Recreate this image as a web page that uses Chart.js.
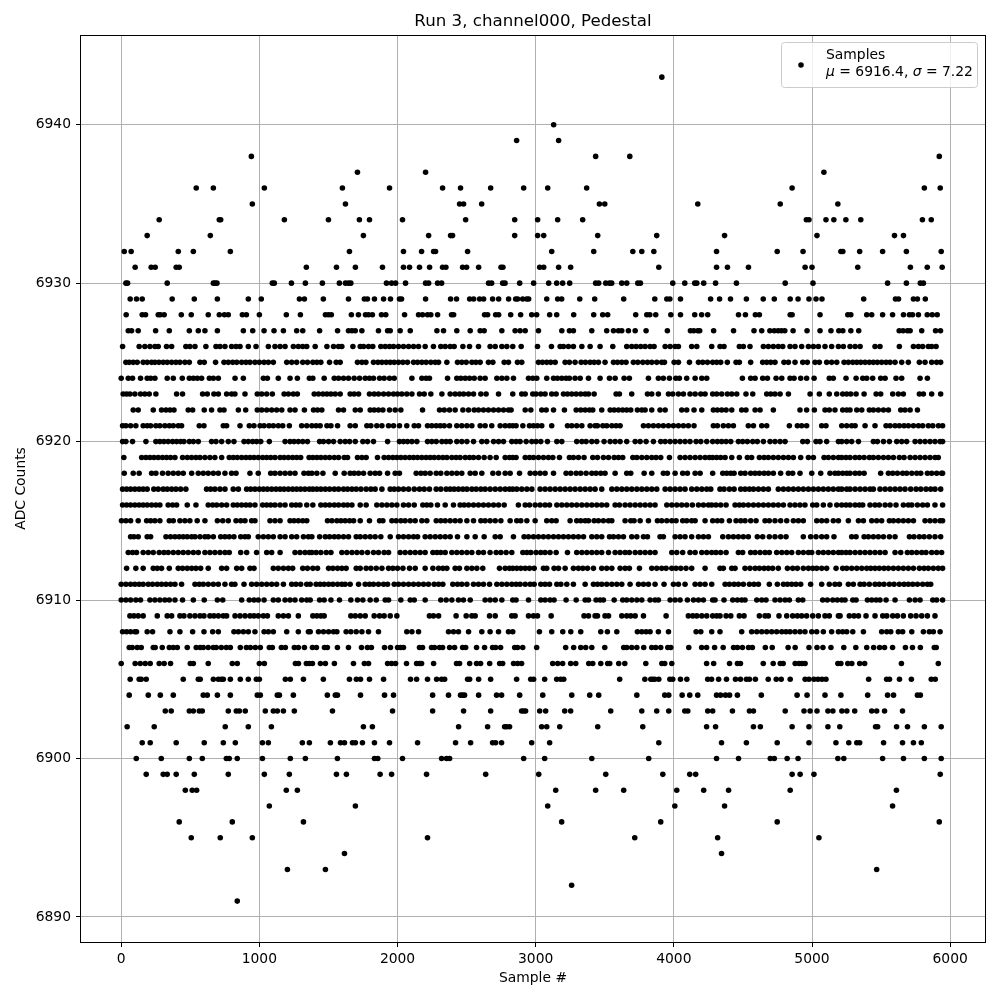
<!DOCTYPE html>
<html>
<head>
<meta charset="utf-8">
<title>Run 3, channel000, Pedestal</title>
<script src="https://cdn.jsdelivr.net/npm/chart.js@4"></script>
<style>
  body { margin: 0; background: #fff; }
  canvas { display: block; }
</style>
</head>
<body>
<canvas id="pedestalChart" width="1000" height="1000"></canvas>
<script>
const chartTitle = "Run 3, channel000, Pedestal";
const xAxisTitle = "Sample #";
const yAxisTitle = "ADC Counts";
const xTicks = [0, 1000, 2000, 3000, 4000, 5000, 6000];
const yTicks = [6890, 6900, 6910, 6920, 6930, 6940];

// sample numbers, one list per ADC level
const adc6943 = [3913];
const adc6940 = [3130];
const adc6939 = [2862, 3166];
const adc6938 = [942, 3434, 3681, 5921];
const adc6937 = [1710, 2203, 5086];
const adc6936 = [543, 667, 1036, 1601, 1942, 2326, 2456, 2674, 2913, 3087, 3369, 4856, 5813, 5928];
const adc6935 = [949, 1623, 2449, 2478, 2609, 3461, 3500, 4173, 4770, 5187];
const adc6934 = [275, 710, 720, 1181, 1500, 1724, 1797, 2036, 2493, 2848, 3014, 3159, 3340, 4959, 4978, 5101, 5158, 5245, 5353, 5799, 5863];
const adc6933 = [188, 645, 1753, 2225, 2384, 2398, 2848, 3014, 3058, 3449, 3876, 4367, 5036, 5597, 5662];
const adc6932 = [22, 72, 413, 522, 790, 1652, 2043, 2174, 2261, 2275, 2507, 3116, 3420, 3703, 3768, 3855, 4309, 4748, 4935, 5209, 5223, 5345, 5511, 5683, 5935];
const adc6931 = [101, 217, 246, 398, 420, 1340, 1558, 1695, 1891, 2043, 2087, 2159, 2232, 2326, 2350, 2471, 2500, 2587, 2749, 2763, 3029, 3058, 3166, 3253, 3891, 4309, 4388, 4540, 4950, 5000, 5331, 5712, 5834, 5942];
const adc6930 = [34, 46, 333, 667, 679, 693, 1094, 1108, 1232, 1333, 1456, 1579, 1623, 1645, 1662, 1920, 1957, 1986, 2058, 2203, 2225, 2290, 2319, 2659, 2681, 2761, 2778, 2884, 2985, 3094, 3152, 3195, 3246, 3434, 3456, 3507, 3534, 3550, 3623, 3659, 3739, 3758, 3992, 4079, 4151, 4166, 4216, 4302, 4453, 4806, 5007, 5547, 5683, 5784, 5806];
const adc6929 = [65, 111, 152, 369, 529, 696, 920, 1014, 1290, 1326, 1463, 1645, 1760, 1782, 1833, 1899, 1949, 2014, 2029, 2203, 2384, 2427, 2522, 2551, 2594, 2623, 2688, 2732, 2804, 2855, 2869, 2906, 2935, 2949, 3080, 3159, 3188, 3319, 3427, 3637, 3862, 3949, 3971, 4048, 4266, 4331, 4410, 4525, 4647, 4727, 4842, 4899, 4978, 5029, 5072, 5374, 5604, 5626, 5734, 5763, 5820];
const adc6928 = [36, 152, 176, 268, 283, 311, 435, 507, 630, 710, 747, 775, 877, 906, 1000, 1195, 1297, 1478, 1500, 1521, 1666, 1717, 1768, 1790, 1818, 1884, 1915, 2051, 2152, 2181, 2217, 2241, 2290, 2391, 2406, 2630, 2652, 2710, 2732, 2819, 2891, 2971, 3007, 3101, 3152, 3275, 3420, 3485, 3521, 3724, 3804, 3826, 3869, 3978, 4048, 4151, 4201, 4245, 4468, 4518, 4590, 4619, 4842, 4856, 5058, 5259, 5281, 5396, 5432, 5511, 5583, 5662, 5705, 5727, 5770, 5834, 5870, 5906];
const adc6927 = [51, 75, 123, 249, 348, 493, 558, 606, 696, 884, 952, 1034, 1106, 1174, 1270, 1314, 1436, 1566, 1645, 1670, 1694, 1742, 1862, 1928, 1947, 2019, 2092, 2285, 2333, 2429, 2526, 2598, 2627, 2755, 2851, 2887, 2924, 3020, 3189, 3244, 3273, 3406, 3514, 3563, 3599, 3623, 3671, 3720, 3799, 3953, 4120, 4144, 4173, 4187, 4288, 4432, 4580, 4636, 4695, 4727, 4755, 4779, 4803, 4863, 4964, 5058, 5137, 5194, 5223, 5281, 5338, 5631, 5659, 5691, 5710, 5794, 5894, 5930];
const adc6926 = [10, 130, 171, 208, 244, 268, 328, 365, 468, 497, 534, 613, 686, 715, 751, 799, 831, 860, 920, 976, 1065, 1113, 1150, 1186, 1246, 1282, 1314, 1343, 1404, 1489, 1537, 1573, 1597, 1677, 1730, 1754, 1790, 1821, 1879, 1911, 1942, 1971, 2007, 2043, 2080, 2116, 2152, 2200, 2260, 2313, 2345, 2381, 2410, 2473, 2521, 2586, 2670, 2707, 2755, 2791, 2834, 2895, 3013, 3114, 3177, 3201, 3237, 3273, 3334, 3394, 3466, 3558, 3659, 3695, 3727, 3760, 3792, 3828, 3857, 3937, 3973, 4009, 4033, 4129, 4166, 4274, 4334, 4363, 4474, 4503, 4551, 4648, 4684, 4720, 4756, 4788, 4841, 4877, 4925, 4974, 5010, 5046, 5094, 5142, 5191, 5227, 5275, 5312, 5348, 5456, 5492, 5632, 5734, 5770, 5801, 5842, 5866, 5898];
const adc6925 = [34, 58, 87, 116, 159, 188, 220, 244, 273, 304, 333, 365, 396, 425, 461, 493, 570, 601, 683, 744, 775, 807, 836, 872, 903, 932, 968, 1000, 1034, 1065, 1101, 1198, 1234, 1270, 1314, 1348, 1387, 1416, 1445, 1508, 1556, 1585, 1710, 1742, 1771, 1826, 1858, 1887, 1918, 1947, 1976, 2007, 2039, 2072, 2116, 2145, 2176, 2207, 2241, 2273, 2297, 2357, 2434, 2465, 2497, 2538, 2567, 2598, 2658, 2690, 2772, 2803, 2868, 2899, 3020, 3049, 3080, 3109, 3141, 3213, 3244, 3285, 3329, 3360, 3394, 3423, 3454, 3502, 3563, 3592, 3623, 3654, 3707, 3739, 3775, 3809, 3840, 3876, 3912, 3932, 4002, 4033, 4113, 4178, 4209, 4243, 4281, 4310, 4339, 4387, 4450, 4474, 4556, 4643, 4672, 4701, 4732, 4797, 4829, 4877, 4933, 4966, 5022, 5053, 5106, 5142, 5179, 5232, 5263, 5295, 5324, 5353, 5384, 5415, 5444, 5473, 5504, 5536, 5565, 5601, 5649, 5697, 5777, 5818, 5866, 5902, 5931];
const adc6924 = [0, 51, 82, 140, 188, 213, 244, 333, 377, 442, 493, 522, 551, 582, 638, 667, 703, 824, 884, 1029, 1058, 1137, 1222, 1275, 1362, 1387, 1469, 1542, 1573, 1609, 1645, 1686, 1725, 1766, 1797, 1826, 1870, 1903, 1942, 1976, 2104, 2176, 2207, 2231, 2362, 2429, 2458, 2490, 2521, 2555, 2598, 2634, 2719, 2755, 2791, 2839, 2948, 2979, 3008, 3080, 3129, 3157, 3189, 3220, 3244, 3285, 3322, 3382, 3466, 3534, 3575, 3640, 3678, 3816, 3888, 3924, 3968, 4014, 4040, 4093, 4154, 4202, 4238, 4496, 4556, 4588, 4643, 4677, 4740, 4781, 4841, 4870, 4918, 4961, 5015, 5125, 5154, 5246, 5319, 5367, 5396, 5439, 5497, 5529, 5608, 5649, 5782, 5835];
const adc6923 = [14, 39, 63, 99, 140, 171, 203, 251, 401, 444, 589, 623, 671, 703, 763, 799, 823, 896, 985, 1017, 1053, 1094, 1179, 1210, 1246, 1275, 1397, 1428, 1460, 1489, 1518, 1549, 1585, 1657, 1686, 1718, 1797, 1831, 1862, 1899, 1935, 1971, 2000, 2031, 2067, 2104, 2159, 2193, 2241, 2321, 2381, 2417, 2449, 2478, 2514, 2550, 2603, 2641, 2731, 2834, 2899, 2924, 2979, 3003, 3037, 3068, 3116, 3148, 3201, 3230, 3261, 3293, 3326, 3358, 3382, 3423, 3582, 3606, 3695, 3809, 3840, 3888, 3961, 3992, 4033, 4069, 4117, 4154, 4195, 4226, 4281, 4310, 4346, 4387, 4419, 4455, 4522, 4571, 4672, 4701, 4732, 4769, 4829, 4986, 5053, 5125, 5179, 5222, 5251, 5280, 5319, 5377, 5464, 5497, 5584, 5625, 5661, 5777, 5806, 5866, 5931];
const adc6922 = [87, 123, 232, 292, 324, 353, 382, 485, 517, 601, 654, 715, 744, 848, 901, 985, 1017, 1053, 1089, 1125, 1162, 1222, 1258, 1326, 1392, 1421, 1452, 1573, 1609, 1694, 1730, 1802, 1831, 1862, 1894, 1942, 1983, 2024, 2181, 2304, 2338, 2376, 2417, 2473, 2514, 2555, 2586, 2622, 2658, 2695, 2731, 2767, 2803, 2822, 2924, 2965, 3044, 3076, 3129, 3208, 3293, 3326, 3358, 3389, 3413, 3478, 3539, 3568, 3599, 3630, 3659, 3688, 3736, 3768, 3792, 3840, 3900, 3937, 4057, 4093, 4146, 4202, 4286, 4315, 4346, 4378, 4419, 4491, 4522, 4588, 4624, 4720, 4913, 4961, 5017, 5094, 5125, 5166, 5222, 5251, 5275, 5324, 5360, 5415, 5444, 5480, 5517, 5553, 5642, 5673, 5710, 5763];
const adc6921 = [10, 34, 68, 106, 159, 188, 213, 251, 280, 316, 348, 377, 413, 437, 565, 599, 739, 763, 860, 927, 961, 1005, 1034, 1070, 1101, 1137, 1169, 1217, 1306, 1343, 1380, 1411, 1440, 1489, 1518, 1566, 1657, 1694, 1778, 1807, 1850, 1887, 1935, 1971, 2014, 2067, 2121, 2152, 2217, 2248, 2280, 2309, 2338, 2376, 2429, 2465, 2502, 2538, 2598, 2634, 2682, 2743, 2779, 2810, 2834, 2858, 2907, 2955, 2984, 3013, 3044, 3116, 3230, 3261, 3297, 3334, 3394, 3430, 3447, 3486, 3514, 3551, 3582, 3611, 3780, 3816, 3852, 3888, 3924, 3961, 3997, 4033, 4069, 4105, 4146, 4286, 4315, 4358, 4395, 4431, 4539, 4576, 4636, 4672, 4836, 4894, 4925, 4961, 5070, 5101, 5215, 5251, 5287, 5312, 5384, 5456, 5536, 5565, 5601, 5632, 5666, 5697, 5734, 5770, 5801, 5842, 5874, 5915, 5945];
const adc6920 = [10, 34, 82, 179, 251, 280, 309, 340, 372, 401, 430, 454, 493, 522, 558, 654, 686, 727, 775, 816, 889, 920, 952, 980, 1010, 1072, 1186, 1222, 1251, 1282, 1314, 1348, 1436, 1464, 1501, 1537, 1585, 1621, 1653, 1694, 1749, 1783, 1826, 1928, 2014, 2043, 2072, 2104, 2140, 2217, 2248, 2280, 2321, 2352, 2381, 2429, 2465, 2502, 2550, 2610, 2646, 2695, 2731, 2767, 2827, 2858, 2887, 2931, 2972, 3003, 3037, 3085, 3153, 3189, 3297, 3334, 3365, 3406, 3442, 3495, 3539, 3575, 3611, 3659, 3720, 3756, 3799, 3852, 3905, 3937, 3973, 4009, 4045, 4081, 4117, 4161, 4195, 4238, 4281, 4315, 4346, 4378, 4412, 4467, 4498, 4532, 4571, 4604, 4648, 4696, 4732, 4769, 4805, 4933, 4966, 5029, 5058, 5106, 5191, 5215, 5251, 5287, 5336, 5444, 5473, 5517, 5560, 5613, 5649, 5685, 5746, 5782, 5818, 5854, 5890, 5927, 5945];
const adc6919 = [19, 148, 179, 208, 237, 268, 299, 328, 357, 389, 444, 478, 509, 541, 570, 606, 642, 678, 727, 782, 811, 840, 872, 903, 932, 961, 992, 1024, 1053, 1082, 1113, 1150, 1179, 1210, 1241, 1270, 1299, 1360, 1387, 1416, 1445, 1477, 1508, 1542, 1573, 1614, 1638, 1710, 1742, 1773, 1855, 1903, 1935, 1966, 1995, 2024, 2055, 2087, 2116, 2145, 2176, 2207, 2236, 2265, 2297, 2328, 2357, 2393, 2424, 2453, 2490, 2521, 2550, 2586, 2627, 2670, 2714, 2779, 2810, 2834, 2858, 2924, 2955, 2984, 3020, 3056, 3092, 3124, 3172, 3244, 3273, 3309, 3350, 3413, 3447, 3490, 3527, 3568, 3599, 3630, 3703, 3732, 3768, 3804, 3840, 3871, 3905, 3968, 4045, 4081, 4117, 4154, 4190, 4226, 4257, 4281, 4310, 4339, 4371, 4419, 4474, 4532, 4563, 4619, 4653, 4684, 4720, 4756, 4793, 4829, 4865, 4918, 4974, 5010, 5087, 5118, 5154, 5191, 5215, 5246, 5275, 5312, 5343, 5377, 5415, 5444, 5480, 5517, 5553, 5589, 5632, 5666, 5710, 5746, 5782, 5818, 5854, 5890, 5914];
const adc6918 = [22, 87, 130, 220, 251, 299, 340, 377, 413, 449, 510, 558, 594, 630, 667, 703, 751, 799, 831, 932, 992, 1082, 1113, 1150, 1186, 1222, 1258, 1323, 1355, 1380, 1416, 1460, 1549, 1614, 1657, 1686, 1718, 1754, 1802, 1838, 1870, 1928, 1983, 2014, 2135, 2169, 2200, 2236, 2280, 2313, 2357, 2393, 2429, 2465, 2526, 2562, 2610, 2690, 2731, 2779, 2815, 2883, 2960, 2996, 3032, 3068, 3129, 3220, 3254, 3293, 3326, 3365, 3406, 3437, 3471, 3502, 3575, 3659, 3688, 3785, 3840, 3924, 3953, 4009, 4064, 4098, 4154, 4190, 4281, 4354, 4383, 4412, 4436, 4484, 4515, 4556, 4588, 4619, 4653, 4684, 4720, 4773, 4829, 4860, 4913, 4998, 5063, 5130, 5166, 5191, 5222, 5251, 5275, 5312, 5343, 5377, 5497, 5553, 5584, 5618, 5656, 5685, 5722, 5758, 5787, 5835, 5866, 5902, 5938, 5945];
const adc6917 = [10, 39, 68, 99, 130, 159, 188, 236, 268, 304, 333, 365, 396, 430, 468, 618, 647, 678, 715, 751, 811, 848, 908, 937, 968, 1000, 1029, 1058, 1089, 1120, 1150, 1179, 1210, 1241, 1270, 1299, 1330, 1362, 1387, 1416, 1445, 1477, 1508, 1542, 1573, 1609, 1638, 1670, 1701, 1735, 1773, 1807, 1838, 1887, 1947, 1976, 2007, 2043, 2080, 2121, 2159, 2193, 2231, 2280, 2313, 2352, 2381, 2410, 2441, 2473, 2502, 2538, 2569, 2603, 2634, 2670, 2707, 2743, 2779, 2810, 2834, 2863, 2899, 2936, 2972, 3032, 3068, 3104, 3141, 3177, 3213, 3249, 3285, 3322, 3358, 3394, 3430, 3478, 3551, 3587, 3623, 3659, 3695, 3732, 3768, 3804, 3840, 3876, 3937, 3973, 4009, 4045, 4081, 4129, 4166, 4202, 4238, 4267, 4334, 4363, 4402, 4436, 4484, 4515, 4547, 4576, 4612, 4648, 4684, 4756, 4793, 4829, 4865, 4901, 4937, 4974, 5010, 5046, 5082, 5118, 5154, 5191, 5215, 5251, 5275, 5312, 5348, 5384, 5420, 5444, 5492, 5529, 5565, 5601, 5637, 5673, 5714, 5753, 5787, 5825, 5859, 5890, 5931];
const adc6916 = [10, 39, 68, 99, 130, 159, 188, 220, 251, 280, 340, 372, 401, 478, 541, 630, 662, 691, 727, 763, 811, 840, 872, 903, 932, 968, 1024, 1053, 1082, 1113, 1150, 1186, 1234, 1265, 1294, 1343, 1387, 1445, 1477, 1508, 1542, 1573, 1609, 1638, 1670, 1730, 1773, 1850, 1887, 1923, 1959, 1995, 2043, 2080, 2121, 2183, 2212, 2241, 2289, 2345, 2405, 2453, 2482, 2514, 2550, 2586, 2622, 2658, 2695, 2731, 2772, 2875, 2924, 2955, 2996, 3032, 3068, 3100, 3153, 3189, 3225, 3261, 3297, 3334, 3370, 3406, 3442, 3478, 3514, 3575, 3606, 3647, 3683, 3720, 3756, 3792, 3828, 3864, 3949, 3985, 4021, 4057, 4093, 4134, 4178, 4214, 4250, 4274, 4305, 4339, 4378, 4443, 4474, 4503, 4539, 4576, 4612, 4648, 4684, 4720, 4756, 4793, 4841, 4877, 4913, 4949, 5005, 5034, 5082, 5130, 5179, 5215, 5246, 5275, 5312, 5343, 5367, 5420, 5456, 5487, 5529, 5565, 5608, 5661, 5697, 5722, 5763, 5801, 5835, 5890, 5945];
const adc6915 = [2, 34, 68, 123, 184, 213, 244, 280, 348, 377, 425, 461, 497, 550, 606, 696, 735, 775, 831, 865, 896, 944, 968, 1077, 1113, 1150, 1222, 1251, 1282, 1314, 1343, 1493, 1525, 1561, 1590, 1621, 1653, 1682, 1730, 1797, 1870, 1894, 1959, 1990, 2024, 2055, 2092, 2128, 2176, 2212, 2280, 2313, 2345, 2381, 2417, 2453, 2502, 2550, 2603, 2634, 2670, 2707, 2748, 2815, 2863, 2892, 2936, 2996, 3080, 3116, 3148, 3249, 3297, 3326, 3358, 3382, 3423, 3454, 3490, 3527, 3551, 3647, 3688, 3712, 3756, 3816, 3881, 3912, 3949, 3985, 4016, 4064, 4093, 4129, 4154, 4226, 4281, 4315, 4346, 4402, 4450, 4484, 4515, 4556, 4595, 4660, 4691, 4732, 4773, 4817, 4865, 4901, 4937, 5034, 5070, 5106, 5154, 5191, 5263, 5336, 5372, 5432, 5468, 5504, 5560, 5589, 5625, 5661, 5697, 5734, 5818, 5854, 5890, 5927, 5945];
const adc6914 = [68, 92, 123, 188, 213, 324, 357, 389, 420, 449, 478, 510, 534, 570, 606, 630, 667, 720, 751, 782, 816, 865, 896, 920, 992, 1029, 1065, 1101, 1150, 1186, 1234, 1270, 1319, 1355, 1380, 1436, 1477, 1508, 1542, 1573, 1609, 1645, 1701, 1730, 1766, 1802, 1838, 1879, 1947, 2007, 2043, 2080, 2116, 2145, 2200, 2236, 2273, 2309, 2345, 2381, 2434, 2502, 2562, 2627, 2707, 2743, 2839, 2916, 2948, 2984, 3020, 3056, 3092, 3129, 3165, 3201, 3237, 3273, 3309, 3346, 3406, 3442, 3478, 3534, 3563, 3599, 3635, 3695, 3732, 3780, 3809, 3900, 3924, 4009, 4045, 4081, 4129, 4178, 4214, 4250, 4354, 4395, 4431, 4467, 4503, 4539, 4604, 4643, 4691, 4732, 4773, 4812, 4937, 4990, 5029, 5070, 5106, 5159, 5287, 5319, 5377, 5408, 5444, 5480, 5517, 5560, 5601, 5705, 5738, 5777, 5811, 5849, 5890, 5931];
const adc6913 = [51, 82, 111, 159, 196, 232, 275, 309, 340, 377, 413, 449, 485, 522, 558, 606, 642, 678, 715, 751, 782, 865, 908, 980, 1053, 1089, 1150, 1258, 1294, 1330, 1362, 1380, 1411, 1445, 1484, 1518, 1597, 1633, 1670, 1706, 1742, 1783, 1826, 1862, 1903, 1935, 2019, 2055, 2092, 2128, 2164, 2200, 2256, 2285, 2313, 2345, 2393, 2429, 2465, 2502, 2538, 2586, 2622, 2670, 2714, 2748, 2786, 2827, 2907, 2936, 2965, 3003, 3037, 3068, 3104, 3148, 3230, 3297, 3334, 3370, 3406, 3442, 3478, 3527, 3575, 3611, 3647, 3678, 3720, 3756, 3792, 3828, 3864, 3985, 4021, 4064, 4117, 4154, 4202, 4238, 4274, 4305, 4339, 4378, 4467, 4498, 4556, 4588, 4624, 4660, 4691, 4744, 4781, 4817, 4853, 4901, 4937, 4974, 4998, 5046, 5082, 5118, 5154, 5191, 5215, 5246, 5275, 5312, 5348, 5384, 5420, 5456, 5492, 5529, 5601, 5642, 5690, 5722, 5758, 5794, 5825, 5866, 5902, 5938];
const adc6912 = [39, 106, 159, 232, 261, 292, 348, 413, 444, 478, 510, 541, 575, 630, 727, 763, 836, 872, 932, 961, 1101, 1137, 1174, 1210, 1241, 1314, 1348, 1387, 1421, 1501, 1532, 1566, 1597, 1628, 1701, 1730, 1773, 1807, 1846, 1887, 1935, 1966, 2000, 2039, 2087, 2128, 2200, 2256, 2297, 2328, 2357, 2417, 2448, 2502, 2538, 2574, 2617, 2738, 2779, 2810, 2834, 2863, 2892, 2924, 2955, 2989, 3056, 3080, 3133, 3165, 3213, 3273, 3309, 3341, 3375, 3418, 3478, 3514, 3551, 3611, 3647, 3678, 3751, 3840, 3876, 3912, 3944, 3985, 4016, 4050, 4088, 4129, 4226, 4334, 4358, 4419, 4443, 4515, 4551, 4588, 4619, 4653, 4684, 4715, 4756, 4822, 4860, 4894, 4937, 4974, 5005, 5034, 5070, 5106, 5174, 5222, 5251, 5287, 5324, 5360, 5396, 5425, 5456, 5487, 5521, 5553, 5589, 5625, 5661, 5697, 5734, 5777, 5811, 5842, 5878, 5914, 5945];
const adc6911 = [0, 34, 68, 99, 130, 159, 196, 227, 261, 292, 324, 357, 389, 437, 534, 565, 594, 630, 667, 703, 751, 799, 823, 889, 944, 980, 1017, 1053, 1089, 1125, 1174, 1234, 1265, 1299, 1343, 1368, 1411, 1440, 1469, 1501, 1532, 1566, 1597, 1621, 1657, 1718, 1766, 1797, 1826, 1862, 1899, 1928, 1976, 2007, 2043, 2080, 2116, 2152, 2188, 2224, 2265, 2297, 2328, 2400, 2434, 2465, 2502, 2550, 2586, 2622, 2666, 2719, 2755, 2791, 2827, 2858, 2887, 2924, 2960, 2989, 3037, 3068, 3100, 3153, 3182, 3225, 3273, 3358, 3418, 3447, 3478, 3514, 3551, 3587, 3623, 3683, 3744, 3780, 3816, 3864, 3929, 3997, 4033, 4081, 4154, 4190, 4226, 4274, 4371, 4402, 4436, 4467, 4503, 4547, 4580, 4612, 4691, 4749, 4793, 4822, 4853, 4884, 4918, 4990, 5070, 5125, 5166, 5198, 5263, 5299, 5348, 5377, 5415, 5456, 5487, 5521, 5560, 5594, 5632, 5666, 5697, 5729, 5763, 5801, 5835, 5859];
const adc6910 = [0, 34, 68, 106, 140, 208, 244, 280, 316, 348, 389, 444, 522, 601, 696, 735, 872, 927, 961, 992, 1034, 1101, 1137, 1186, 1222, 1258, 1306, 1343, 1368, 1436, 1469, 1518, 1580, 1662, 1710, 1749, 1802, 1846, 1911, 1935, 2024, 2092, 2121, 2200, 2313, 2352, 2393, 2441, 2477, 2526, 2634, 2670, 2707, 2755, 2834, 2858, 2948, 3037, 3068, 3104, 3133, 3220, 3293, 3358, 3382, 3437, 3466, 3490, 3568, 3630, 3659, 3695, 3732, 3768, 3828, 3864, 3888, 3973, 4009, 4045, 4098, 4142, 4178, 4214, 4281, 4298, 4363, 4426, 4460, 4491, 4515, 4600, 4636, 4667, 4732, 4769, 4805, 4836, 4901, 4933, 5077, 5111, 5150, 5183, 5215, 5239, 5295, 5319, 5401, 5432, 5464, 5492, 5536, 5601, 5705, 5746, 5782, 5874, 5902, 5945];
const adc6909 = [63, 92, 123, 159, 261, 333, 365, 425, 454, 497, 534, 570, 599, 642, 671, 703, 739, 763, 824, 860, 896, 932, 961, 992, 1029, 1058, 1137, 1174, 1210, 1282, 1387, 1416, 1445, 1469, 1662, 1694, 1730, 1766, 1831, 1870, 1903, 1947, 1995, 2231, 2260, 2297, 2424, 2497, 2538, 2562, 2666, 2707, 2827, 2851, 2948, 2984, 3013, 3112, 3350, 3382, 3430, 3447, 3502, 3527, 3623, 3659, 3688, 3720, 3780, 3944, 4105, 4137, 4166, 4202, 4238, 4281, 4310, 4334, 4378, 4412, 4474, 4508, 4619, 4660, 4684, 4761, 4817, 4860, 4894, 4925, 4961, 5005, 5046, 5094, 5125, 5191, 5203, 5270, 5304, 5336, 5391, 5456, 5512, 5541, 5584, 5618, 5661, 5714, 5753, 5794, 5835, 5890];
const adc6908 = [10, 39, 68, 99, 111, 188, 227, 353, 425, 517, 599, 662, 703, 816, 848, 884, 920, 968, 1034, 1065, 1101, 1198, 1282, 1355, 1368, 1428, 1464, 1501, 1537, 1561, 1628, 1662, 1701, 1742, 1790, 1862, 2067, 2104, 2152, 2369, 2405, 2441, 2514, 2610, 2670, 2731, 2803, 2834, 3027, 3116, 3196, 3254, 3326, 3471, 3519, 3587, 3736, 3768, 3799, 3828, 3888, 3961, 4161, 4195, 4274, 4334, 4491, 4563, 4600, 4636, 4672, 4708, 4744, 4781, 4812, 4841, 4877, 4913, 4949, 4998, 5034, 5082, 5142, 5191, 5222, 5251, 5295, 5372, 5504, 5541, 5570, 5625, 5656, 5722, 5806, 5849, 5878, 5927];
const adc6907 = [58, 80, 116, 145, 232, 246, 297, 348, 377, 406, 478, 543, 572, 594, 630, 667, 688, 725, 761, 790, 862, 906, 935, 971, 1007, 1072, 1094, 1159, 1188, 1253, 1282, 1326, 1384, 1413, 1471, 1492, 1565, 1645, 1739, 1782, 1811, 1906, 1949, 2000, 2022, 2043, 2159, 2181, 2246, 2268, 2304, 2326, 2377, 2413, 2471, 2493, 2572, 2630, 2688, 2710, 2746, 2848, 2869, 2906, 3007, 3217, 3275, 3326, 3362, 3406, 3500, 3637, 3659, 3695, 3732, 3782, 3840, 3869, 3905, 3956, 3978, 4108, 4201, 4237, 4295, 4357, 4432, 4460, 4496, 4540, 4568, 4662, 4712, 4827, 4878, 4978, 5036, 5079, 5137, 5230, 5317, 5396, 5446, 5489, 5525, 5583, 5676, 5727, 5784, 5885, 5899];
const adc6906 = [0, 101, 138, 174, 210, 275, 311, 357, 500, 522, 630, 804, 840, 1000, 1036, 1261, 1283, 1340, 1362, 1384, 1442, 1478, 1543, 1681, 1760, 1790, 1928, 1957, 1986, 2065, 2138, 2159, 2174, 2261, 2427, 2449, 2522, 2572, 2601, 2667, 2739, 2761, 2840, 2869, 2898, 3123, 3159, 3195, 3253, 3290, 3384, 3413, 3471, 3521, 3536, 3601, 3645, 3797, 3913, 3934, 3985, 4237, 4288, 4403, 4460, 4482, 4647, 4719, 4770, 4791, 4878, 4906, 4928, 4950, 5187, 5209, 5259, 5288, 5345, 5381, 5647, 5914];
const adc6905 = [65, 130, 145, 181, 449, 558, 572, 667, 703, 725, 739, 790, 862, 920, 978, 1000, 1188, 1224, 1319, 1463, 1652, 1702, 1732, 1797, 1899, 2094, 2138, 2217, 2283, 2319, 2341, 2507, 2522, 2587, 2674, 2862, 2964, 2985, 3065, 3152, 3181, 3203, 3608, 3790, 3833, 3847, 3862, 3891, 3971, 3992, 4048, 4094, 4245, 4273, 4324, 4381, 4446, 4482, 4525, 4547, 4590, 4683, 4741, 4777, 4842, 4950, 4978, 5014, 5043, 5072, 5101, 5410, 5540, 5561, 5633, 5719, 5863, 5892];
const adc6904 = [58, 196, 283, 377, 594, 623, 696, 790, 985, 1007, 1130, 1145, 1246, 1492, 1550, 1565, 1732, 1906, 1971, 2254, 2369, 2456, 2471, 2485, 2587, 2717, 2753, 2884, 3051, 3261, 3391, 3456, 3732, 3934, 3963, 4060, 4115, 4173, 4309, 4338, 4374, 4403, 4460, 4633, 4892, 4964, 5094, 5209, 5403, 5547, 5590, 5763, 5784];
const adc6903 = [319, 362, 493, 522, 565, 587, 775, 833, 855, 898, 1043, 1101, 1130, 1174, 1253, 1529, 1964, 2254, 2478, 2674, 2898, 2913, 2927, 3029, 3072, 3210, 3253, 3543, 3768, 3876, 3963, 4079, 4101, 4245, 4281, 4424, 4547, 4576, 4806, 4942, 4986, 5036, 5115, 5151, 5216, 5252, 5309, 5432, 5468, 5525, 5655];
const adc6902 = [43, 239, 753, 920, 1087, 1753, 1818, 2442, 2652, 2775, 2790, 2811, 3043, 3080, 3174, 3449, 3775, 4237, 4302, 4576, 4626, 4856, 4978, 5115, 5201, 5460, 5475, 5612, 5691, 5813, 5935];
const adc6901 = [152, 210, 398, 601, 739, 826, 1022, 1065, 1311, 1362, 1514, 1587, 1616, 1674, 1695, 1746, 1833, 1942, 2145, 2420, 2529, 2688, 2710, 2753, 2971, 3101, 3891, 4345, 4525, 4748, 4978, 5173, 5266, 5324, 5345, 5518, 5655, 5734, 5791];
const adc6900 = [109, 290, 493, 587, 761, 782, 840, 1022, 1224, 1333, 1565, 1833, 1857, 2036, 2319, 2355, 2377, 2913, 3065, 3406, 3818, 4309, 4468, 4698, 4727, 4820, 4899, 5187, 5230, 5511, 5662, 5813, 5935];
const adc6899 = [181, 304, 333, 398, 529, 775, 1036, 1217, 1558, 1630, 1874, 1957, 2210, 2638, 3022, 3507, 3920, 4115, 4158, 4856, 4914, 5014, 5928];
const adc6898 = [464, 514, 546, 1195, 1275, 3145, 3434, 3637, 4021, 4216, 4396, 4842, 5611];
const adc6897 = [1072, 1695, 3087, 4007, 4367, 5583];
const adc6896 = [420, 804, 1319, 3188, 3905, 4748, 5921];
const adc6895 = [507, 717, 949, 2217, 3717, 4317, 5050];
const adc6894 = [1616, 4345];
const adc6893 = [1203, 1478, 5468];
const adc6892 = [3260];
const adc6891 = [840];

const levels = [6943, 6940, 6939, 6938, 6937, 6936, 6935, 6934, 6933, 6932, 6931, 6930, 6929, 6928, 6927, 6926, 6925, 6924, 6923, 6922, 6921, 6920, 6919, 6918, 6917, 6916, 6915, 6914, 6913, 6912, 6911, 6910, 6909, 6908, 6907, 6906, 6905, 6904, 6903, 6902, 6901, 6900, 6899, 6898, 6897, 6896, 6895, 6894, 6893, 6892, 6891];
const levelSamples = [adc6943, adc6940, adc6939, adc6938, adc6937, adc6936, adc6935, adc6934, adc6933, adc6932, adc6931, adc6930, adc6929, adc6928, adc6927, adc6926, adc6925, adc6924, adc6923, adc6922, adc6921, adc6920, adc6919, adc6918, adc6917, adc6916, adc6915, adc6914, adc6913, adc6912, adc6911, adc6910, adc6909, adc6908, adc6907, adc6906, adc6905, adc6904, adc6903, adc6902, adc6901, adc6900, adc6899, adc6898, adc6897, adc6896, adc6895, adc6894, adc6893, adc6892, adc6891];

let points = [];
levels.forEach((level, i) => {
  levelSamples[i].forEach((s) => {
    points.push({ x: s, y: level });
  });
});

const fontName = "'DejaVu Sans', sans-serif";

// top and right spines and the legend box, matplotlib style
const framePlugin = {
  id: "frame",
  afterDraw(chart) {
    const ctx = chart.ctx;
    const a = chart.chartArea;
    ctx.save();
    ctx.strokeStyle = "#000";
    ctx.lineWidth = 1;
    ctx.strokeRect(a.left - 0.5, a.top + 0.5, a.right - a.left + 1, a.bottom - a.top);

    ctx.beginPath();
    ctx.roundRect(781.5, 42.5, 196, 45, 3);
    ctx.fillStyle = "rgba(255,255,255,0.8)";
    ctx.fill();
    ctx.strokeStyle = "#cccccc";
    ctx.stroke();

    ctx.fillStyle = "#000";
    ctx.beginPath();
    ctx.arc(801, 65, 2.78, 0, Math.PI * 2);
    ctx.fill();

    ctx.textBaseline = "alphabetic";
    ctx.font = "13.9px " + fontName;
    ctx.fillText("Samples", 826, 59);

    let x = 826;
    const pieces = [
      ["\u03bc", true],
      [" = 6916.4, ", false],
      ["\u03c3", true],
      [" = 7.22", false],
    ];
    pieces.forEach((p) => {
      ctx.font = (p[1] ? "italic " : "") + "13.9px " + fontName;
      ctx.fillText(p[0], x, 76);
      x += ctx.measureText(p[0]).width;
    });
    ctx.restore();
  },
};

const ctx = document.getElementById("pedestalChart").getContext("2d");
new Chart(ctx, {
  type: "scatter",
  data: {
    datasets: [
      {
        label: "Samples",
        data: points,
        backgroundColor: "#000",
        borderWidth: 0,
        pointRadius: 2.78,
      },
    ],
  },
  plugins: [framePlugin],
  options: {
    responsive: false,
    animation: false,
    devicePixelRatio: 1,
    layout: { padding: { left: 0, right: 15, top: 0, bottom: 0 } },
    plugins: {
      legend: { display: false },
      tooltip: { enabled: false },
      title: {
        display: true,
        text: chartTitle,
        fullSize: false,
        color: "#000",
        font: { family: fontName, size: 16.67, weight: "normal" },
        padding: { top: 12, bottom: 3 },
      },
    },
    scales: {
      x: {
        type: "linear",
        min: -291,
        max: 6252,
        afterBuildTicks(scale) {
          scale.ticks = xTicks.map((v) => ({ value: v }));
        },
        afterFit(scale) {
          scale.height = 58;
        },
        border: { display: false },
        grid: { color: "#b0b0b0", lineWidth: 1, tickColor: "#000", tickLength: 5 },
        ticks: {
          color: "#000",
          maxRotation: 0,
          padding: 4,
          font: { family: fontName, size: 13.89 },
          callback: (v) => String(v),
        },
        title: {
          display: true,
          text: xAxisTitle,
          color: "#000",
          font: { family: fontName, size: 13.89 },
          padding: { top: 0, bottom: 13 },
        },
      },
      y: {
        type: "linear",
        min: 6888.42,
        max: 6945.66,
        afterBuildTicks(scale) {
          scale.ticks = yTicks.map((v) => ({ value: v }));
        },
        afterFit(scale) {
          scale.width = 81;
        },
        border: { display: false },
        grid: { color: "#b0b0b0", lineWidth: 1, tickColor: "#000", tickLength: 5 },
        ticks: {
          color: "#000",
          padding: 5,
          font: { family: fontName, size: 13.89 },
          callback: (v) => String(v),
        },
        title: {
          display: true,
          text: yAxisTitle,
          color: "#000",
          font: { family: fontName, size: 13.89 },
          padding: { top: 13, bottom: 13 },
        },
      },
    },
  },
});
</script>
</body>
</html>
